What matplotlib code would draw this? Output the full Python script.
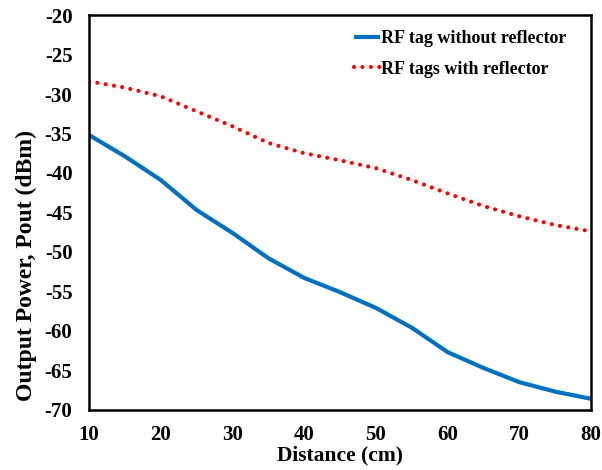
import matplotlib.pyplot as plt

# distance in cm and measured output power (dBm)
distance = [10, 15, 20, 25, 30, 35, 40, 45, 50, 55, 60, 65, 70, 75, 80]
pout_no_reflector = [-35.2, -37.9, -40.9, -44.7, -47.6, -50.8, -53.3, -55.1,
                     -57.1, -59.6, -62.7, -64.7, -66.5, -67.7, -68.6]
pout_reflector = [-28.4, -29.2, -30.3, -32.2, -34.1, -36.2, -37.5, -38.4,
                  -39.4, -40.9, -42.6, -44.2, -45.5, -46.6, -47.4]

xticks = [10, 20, 30, 40, 50, 60, 70, 80]
yticks = [-20, -25, -30, -35, -40, -45, -50, -55, -60, -65, -70]

plt.rcParams["font.family"] = ["Liberation Serif", "DejaVu Serif"]
plt.rcParams["font.weight"] = "bold"
plt.rcParams["axes.unicode_minus"] = False

fig = plt.figure(figsize=(6.02, 4.70), dpi=100)
ax = fig.add_axes([0.148, 0.128, 0.834, 0.840])

ax.plot(distance, pout_no_reflector, color="#0070C0", linewidth=3,
        solid_capstyle="butt", label="RF tag without reflector")
ax.plot(distance, pout_reflector, color="#FF0000", linewidth=3,
        linestyle=(0, (0.01, 2.0)), dash_capstyle="round",
        label="RF tags with reflector")

ax.set_xlim(10, 80)
ax.set_ylim(-70, -20)
ax.set_xticks(xticks)
ax.set_yticks(yticks)
ax.tick_params(axis="y", length=0, labelsize=15, pad=12)
ax.tick_params(axis="x", length=0, labelsize=15, pad=11)
for lbl in ax.get_xticklabels() + ax.get_yticklabels():
    lbl.set_fontweight("bold")

for sp in ax.spines.values():
    sp.set_linewidth(1.8)
    sp.set_color("black")

ax.set_xlabel("Distance (cm)", fontsize=15.5, fontweight="bold", labelpad=0)
ax.set_ylabel("Output Power, Pout (dBm)", fontsize=17, fontweight="bold")
ax.yaxis.set_label_coords(-0.103, 0.365)

leg = ax.legend(loc="upper right", bbox_to_anchor=(1.0, 1.026), frameon=False,
                fontsize=13, handlelength=1.4, handletextpad=0.05,
                borderaxespad=1.0, labelspacing=0.75)
for t in leg.get_texts():
    t.set_fontweight("bold")

fig.savefig("out.png", dpi=100)
